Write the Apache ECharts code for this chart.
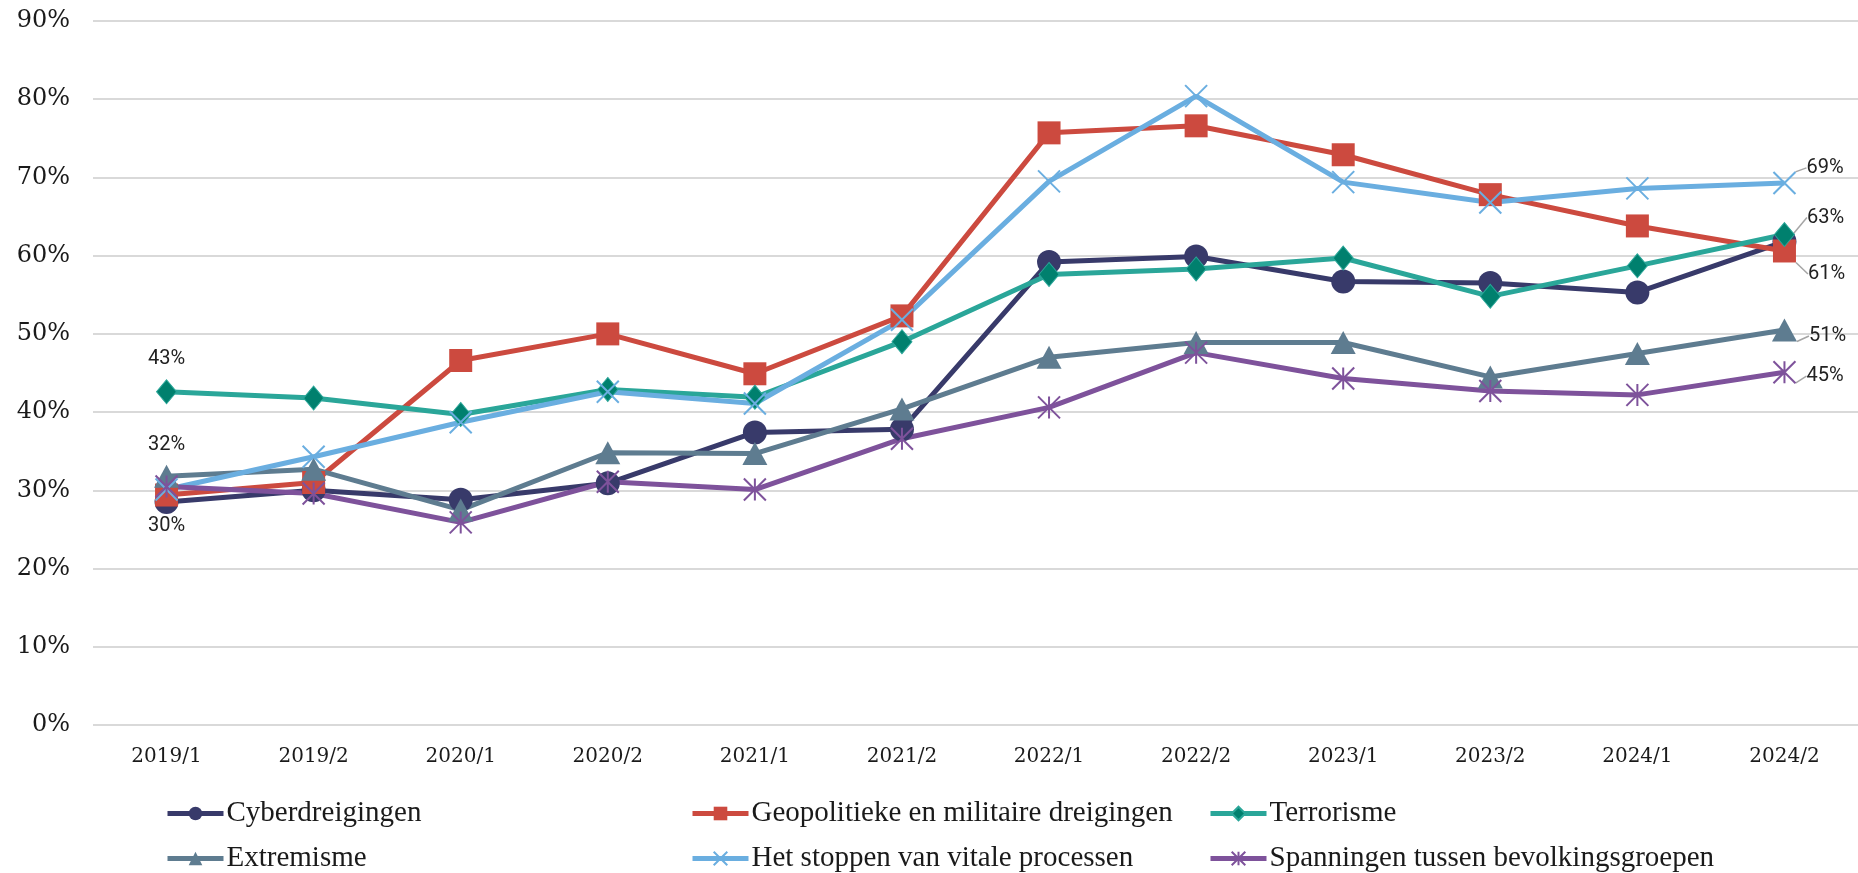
<!DOCTYPE html>
<html lang="nl">
<head>
    <meta charset="UTF-8">
    <script src="https://cdn.jsdelivr.net/npm/echarts@6/dist/echarts.min.js"></script>
    <title>Dreigingen</title>
    <style>
        html, body { margin: 0; padding: 0; background: #fff; }
        #main { width: 1858px; height: 873px; }
    </style>
</head>
<body>
<div id="main"></div>
<script>
    // data (percentages per half year)
    const categories = ['2019/1', '2019/2', '2020/1', '2020/2', '2021/1', '2021/2',
        '2022/1', '2022/2', '2023/1', '2023/2', '2024/1', '2024/2'];
    const cyber    = [28.5, 30.0, 28.8, 30.9, 37.4, 37.8, 59.2, 59.9, 56.7, 56.5, 55.3, 61.8];
    const geo      = [29.4, 31.0, 46.6, 50.0, 44.9, 52.3, 75.7, 76.6, 72.9, 67.8, 63.8, 60.6];
    const terror   = [42.6, 41.8, 39.7, 42.9, 41.9, 49.0, 57.6, 58.3, 59.7, 54.8, 58.7, 62.7];
    const extrem   = [31.8, 32.7, 27.5, 34.8, 34.7, 40.4, 47.0, 48.9, 48.9, 44.5, 47.5, 50.5];
    const vital    = [30.1, 34.3, 38.7, 42.6, 41.1, 51.8, 69.5, 80.4, 69.4, 66.8, 68.6, 69.3];
    const spanning = [30.5, 29.6, 25.9, 31.1, 30.1, 36.6, 40.6, 47.6, 44.3, 42.7, 42.2, 45.1];

    const names = ['Cyberdreigingen', 'Geopolitieke en militaire dreigingen', 'Terrorisme',
        'Extremisme', 'Het stoppen van vitale processen', 'Spanningen tussen bevolkingsgroepen'];

    const serif = 'DejaVu Serif';
    const xPath = 'path://M0,0L10,10M10,0L0,10';
    const starPath = 'path://M0,0L10,10M10,0L0,10M5,0L5,10';

    let myChart = echarts.init(document.getElementById('main'));

    // which points get a value label: [index, position, distance]
    function makeData(values, labels) {
        return values.map((v, i) => {
            let l = labels.find(item => item[0] === i);
            if (!l) return v;
            return {
                value: v,
                label: { show: true, position: l[1], distance: l[2] },
                labelLine: { show: l[1] === 'right' }
            };
        });
    }

    function endLayout(dy) {
        return function (params) {
            if (params.dataIndex !== 11) return {};
            return { dy: dy };
        };
    }

    const labelStyle = {
        formatter: p => Math.round(p.value) + '%',
        fontFamily: 'Roboto',
        fontSize: 20,
        color: '#222'
    };
    const leader = { show: true, length2: 0, lineStyle: { color: '#a5a5a5', width: 1.5 } };

    function lineSeries(name, values, color, symbol, size, extra) {
        return Object.assign({
            name: name,
            type: 'line',
            data: values,
            symbol: symbol,
            symbolSize: size,
            lineStyle: { color: color, width: 5 },
            itemStyle: { color: color },
            label: Object.assign({ show: false }, labelStyle),
            z: 2
        }, extra || {});
    }

    let series = [
        lineSeries(names[0], cyber, '#383a6a', 'circle', 24),
        lineSeries(names[1], makeData(geo, [[11, 'right', 12]]), '#cc4a3f', 'rect', 23, {
            labelLayout: endLayout(23), labelLine: leader
        }),
        lineSeries(names[2], makeData(terror, [[0, 'top', 10], [11, 'right', 12]]), '#2aa699', 'diamond', [20, 24], {
            itemStyle: { color: '#00806e', borderColor: '#2aa699', borderWidth: 1 },
            labelLayout: endLayout(-17), labelLine: leader
        }),
        lineSeries(names[3], makeData(extrem, [[0, 'top', 10], [11, 'right', 12]]), '#5e7c90', 'triangle', [25, 23], {
            labelLayout: endLayout(6), labelLine: leader
        }),
        lineSeries(names[4], makeData(vital, [[0, 'bottom', 14], [11, 'right', 10]]), '#6aaee0', xPath, 22, {
            itemStyle: { color: '#6aaee0', borderColor: '#6aaee0', borderWidth: 2 },
            labelLayout: endLayout(-15), labelLine: leader
        }),
        lineSeries(names[5], makeData(spanning, [[11, 'right', 10]]), '#7e529b', starPath, 22, {
            itemStyle: { color: '#7e529b', borderColor: '#7e529b', borderWidth: 2 },
            labelLayout: endLayout(4), labelLine: leader
        })
    ];

    // legend: 3 columns, 2 rows
    const legendCols = [160, 685, 1203];
    const legendRows = [794, 839];
    let legends = names.map((name, i) => ({
        data: [name],
        left: legendCols[i % 3],
        top: legendRows[Math.floor(i / 3)],
        itemWidth: 56,
        itemHeight: 17,
        itemGap: 0,
        lineStyle: { width: 5 },
        textStyle: { fontFamily: 'Liberation Serif', fontSize: 29, color: '#1a1a1a', padding: [0, 0, 0, -2] }
    }));

    let option = {
        animation: false,
        backgroundColor: '#fff',
        grid: { left: 93, right: 0, top: 21, bottom: 148 },
        legend: legends,
        xAxis: {
            type: 'category',
            data: categories,
            axisLine: { show: false },
            axisTick: { show: false },
            axisLabel: { fontFamily: serif, fontSize: 20, color: '#1a1a1a', margin: 22 }
        },
        yAxis: {
            type: 'value',
            min: 0,
            max: 90,
            interval: 10,
            axisLabel: { formatter: '{value}%', fontFamily: serif, fontSize: 24, color: '#1a1a1a', margin: 23 },
            splitLine: { lineStyle: { color: '#d9d9d9', width: 2 } }
        },
        series: series
    };

    myChart.setOption(option);
</script>
</body>
</html>
